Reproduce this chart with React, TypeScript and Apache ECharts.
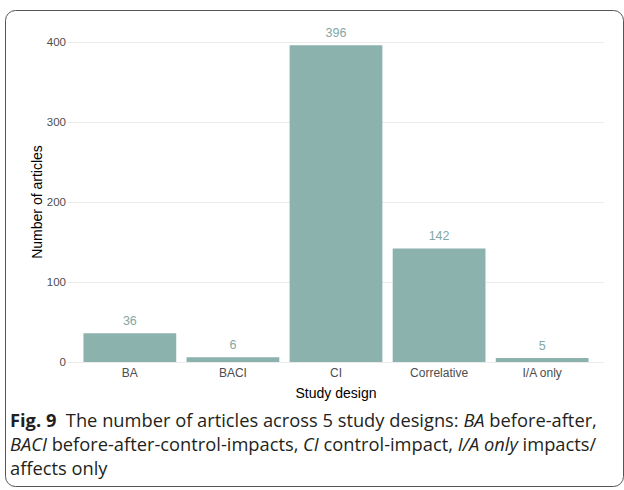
import React, { useEffect, useRef } from "react";
import * as echarts from "echarts";

const categories = ["BA", "BACI", "CI", "Correlative", "I/A only"];
const counts = [36, 6, 396, 142, 5];
const yMin = 0;
const yMax = 400;
const yInterval = 100;

const captionText =
  "{b|Fig. 9}  {n|The number of articles across 5 study designs: }{i|BA}{n| before-after,}\n" +
  "{i|BACI}{n| before-after-control-impacts, }{i|CI}{n| control-impact, }{i|I/A only}{n| impacts/}\n" +
  "{n|affects only}";

export default function App() {
  const ref = useRef<HTMLDivElement>(null);
  useEffect(() => {
    document.body.style.margin = "0";
    const chart = echarts.init(ref.current!, null, { renderer: "svg" });
    const barColor = "#8cb2ae";
    const capFont = "'Open Sans', 'Noto Sans', sans-serif";
    const capSize = 18.3;
    const capLH = 24;
    chart.setOption({
      animation: false,
      backgroundColor: "#ffffff",
      textStyle: { fontFamily: "'Liberation Sans', Arial, sans-serif" },
      grid: [
        { left: 78.3, right: 30.3, top: 42, bottom: 128 },
        { left: 68, right: 20, top: 42, bottom: 128 },
      ],
      xAxis: [
        {
          type: "category",
          gridIndex: 0,
          data: categories,
          axisLine: { show: false },
          axisTick: { show: false },
          axisLabel: { color: "#4d4d4d", fontSize: 12, margin: 5 },
          name: "Study design",
          nameLocation: "middle",
          nameGap: 24,
          nameMoveOverlap: false,
          nameTextStyle: { fontSize: 14, color: "#000000" },
        },
        { type: "value", gridIndex: 1, show: false, min: 0, max: 1 },
      ],
      yAxis: [
        {
          type: "value",
          gridIndex: 0,
          min: yMin,
          max: yMax,
          interval: yInterval,
          show: false,
          splitLine: { show: false },
        },
        {
          type: "value",
          gridIndex: 1,
          min: yMin,
          max: yMax,
          interval: yInterval,
          axisLine: { show: false },
          axisTick: { show: false },
          splitLine: { show: true, lineStyle: { color: "#ebebeb", width: 1 } },
          axisLabel: { color: "#4d4d4d", fontSize: 11.5, margin: 2 },
          name: "Number of articles",
          nameLocation: "middle",
          nameGap: 24,
          nameMoveOverlap: false,
          nameRotate: 90,
          nameTextStyle: { fontSize: 14, color: "#000000" },
        },
      ],
      series: [
        {
          type: "bar",
          xAxisIndex: 0,
          yAxisIndex: 0,
          data: counts,
          barWidth: "90%",
          itemStyle: { color: barColor },
          label: {
            show: true,
            position: "top",
            distance: 6,
            color: "#7fa8a4",
            fontSize: 12.5,
          },
          z: 3,
        },
      ],
      graphic: [
        {
          type: "rect",
          shape: { x: 5.5, y: 10.5, width: 618, height: 476, r: 10 },
          style: { fill: "none", stroke: "#555555", lineWidth: 1 },
          z: 10,
        },
        {
          type: "text",
          x: 10,
          y: 407,
          style: {
            text: captionText,
            fontFamily: capFont,
            fontSize: capSize,
            lineHeight: capLH,
            fill: "#231f20",
            rich: {
              b: { fontFamily: capFont, fontSize: capSize, lineHeight: capLH, fontWeight: "bold", fill: "#231f20" },
              n: { fontFamily: capFont, fontSize: capSize, lineHeight: capLH, fill: "#231f20" },
              i: { fontFamily: capFont, fontSize: capSize, lineHeight: capLH, fontStyle: "italic", fill: "#231f20" },
            },
          },
          z: 10,
        },
      ],
    });
    return () => chart.dispose();
  }, []);
  return (
    <div
      ref={ref}
      style={{ position: "absolute", left: 0, top: 0, width: 624, height: 490 }}
    />
  );
}
